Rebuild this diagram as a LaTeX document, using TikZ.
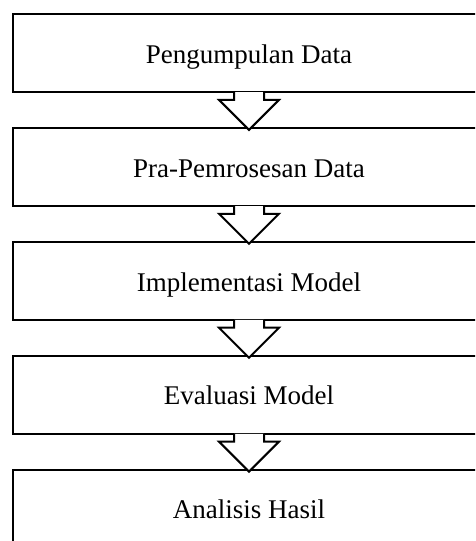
\documentclass[tikz,border=0pt]{standalone}
\usepackage{fontspec}
\setmainfont{Liberation Serif}
\usetikzlibrary{calc}
\tikzset{
  stage/.style={draw=black, line width=2pt, fill=white, minimum width=472pt,
    minimum height=78pt, inner sep=0pt, text height=19.6pt, text depth=0pt,
    font=\fontsize{27}{31}\selectfont},
  flowarrow/.style={draw=black, line width=2pt, fill=white, line join=miter}
}
\begin{document}
\begin{tikzpicture}[x=1pt, y=1pt]
  \useasboundingbox (0,0) rectangle (475,541);
  \clip (0,0) rectangle (475,541);
  \fill[white] (0,0) rectangle (475,541);
  % process stages
  \node[stage] (b1) at (249,487.5) {Pengumpulan Data};
  \node[stage] (b2) at (249,373.6) {Pra-Pemrosesan Data};
  \node[stage] (b3) at (249,259.7) {Implementasi Model};
  \node[stage] (b4) at (249,145.8) {Evaluasi Model};
  \node[stage] (b5) at (249,31.9)  {Analisis Hasil};
  % hollow block arrows between consecutive stages
  \foreach \a/\b in {b1/b2, b2/b3, b3/b4, b4/b5}{
    \draw[flowarrow] ($(\a.south)+(-15,1.3)$) -- ($(\b.north)+(-15,27.5)$)
      -- ++(-15,0) -- ($(\b.north)+(0,-2.5)$) -- ++(30,30) -- ++(-15,0)
      -- ($(\a.south)+(15,1.3)$);
  }
\end{tikzpicture}
\end{document}
